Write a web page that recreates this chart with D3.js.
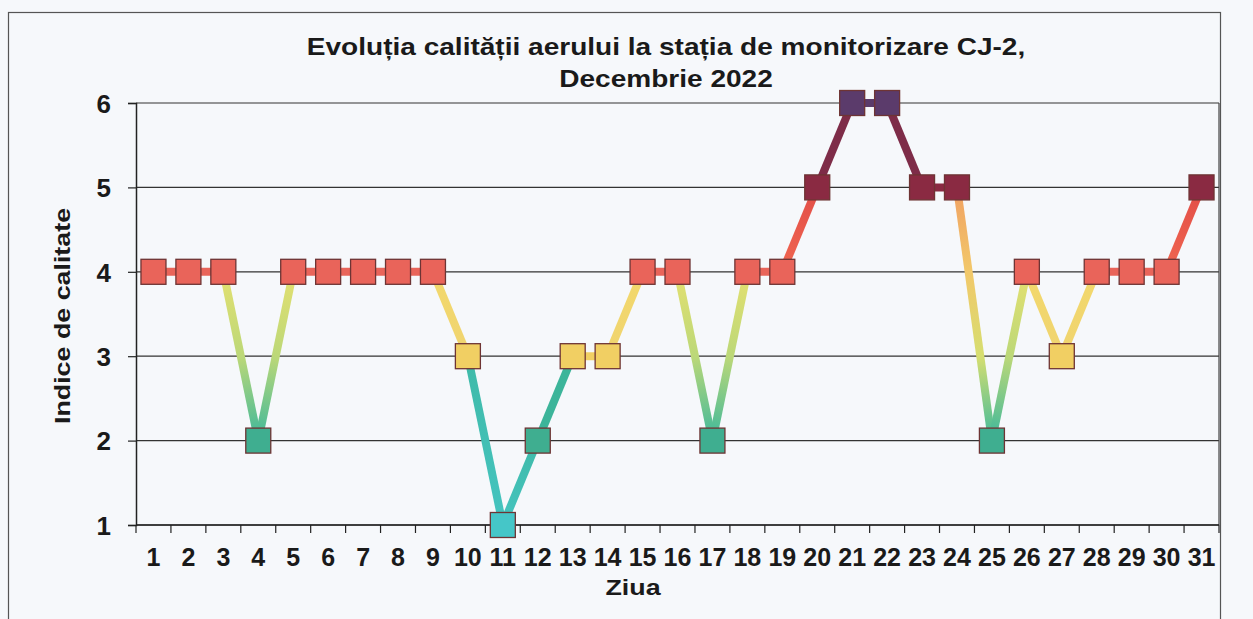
<!DOCTYPE html>
<html>
<head>
<meta charset="utf-8">
<script src="https://cdn.jsdelivr.net/npm/d3@7"></script>
<style>
  html, body { margin: 0; padding: 0; background: #f6f8fb; }
  svg { display: block; font-family: "Liberation Sans", Arial, sans-serif; }
</style>
</head>
<body>
<svg id="chart" width="1253" height="619"></svg>
<script>
var days = d3.range(1, 32);
var values = [4, 4, 4, 2, 4, 4, 4, 4, 4, 3, 1, 2, 3, 3, 4, 4, 2, 4, 4, 5, 6, 6, 5, 5, 2, 4, 3, 4, 4, 4, 5];
var yTicks = [1, 2, 3, 4, 5, 6];
var titleLines = ['Evoluția calității aerului la stația de monitorizare CJ-2,', 'Decembrie 2022'];

// marker fill per index value
var markerColors = {1: '#45c6c8', 2: '#3fae90', 3: '#f1cf63', 4: '#e9645a', 5: '#8a2a42', 6: '#5b3b6b'};

var svg = d3.select('#chart'),
    plotLeft = 136, plotRight = 1219, plotTop = 103, plotBottom = 525,
    stretch = 'scale(1.22,1)';

var x = d3.scaleBand().domain(days).range([plotLeft, plotRight]).padding(0);
var y = d3.scaleLinear().domain([1, 6]).range([plotBottom, plotTop]);

// outer frame
svg.append('rect')
  .attr('x', 8.5).attr('y', 12.5)
  .attr('width', 1212).attr('height', 640)
  .attr('fill', 'none').attr('stroke', '#555').attr('stroke-width', 1.2);

// title
svg.append('g').selectAll('text')
  .data(titleLines)
  .enter().append('text')
  .attr('transform', function (d, i) { return 'translate(666,' + (55 + i * 32) + ') ' + stretch; })
  .attr('text-anchor', 'middle')
  .attr('font-size', 23).attr('font-weight', 'bold').attr('fill', '#1a1a1a')
  .text(function (d) { return d; });

// grid lines
svg.append('g').selectAll('line')
  .data(yTicks)
  .enter().append('line')
  .attr('x1', plotLeft).attr('x2', plotRight)
  .attr('y1', function (d) { return y(d); }).attr('y2', function (d) { return y(d); })
  .attr('stroke', '#333').attr('stroke-width', 1.2);

// right border of plot area
svg.append('line')
  .attr('x1', plotRight).attr('x2', plotRight).attr('y1', plotTop).attr('y2', plotBottom)
  .attr('stroke', '#444').attr('stroke-width', 1.2);

// y axis
var yAxis = svg.append('g')
  .attr('transform', 'translate(' + plotLeft + ',0)')
  .call(d3.axisLeft(y).tickValues(yTicks).tickSize(8).tickPadding(17).tickFormat(d3.format('d')));
yAxis.select('.domain').attr('stroke', '#222').attr('stroke-width', 1.5);
yAxis.selectAll('.tick line').attr('stroke', '#222').attr('stroke-width', 1.2);
yAxis.selectAll('.tick text')
  .attr('font-size', 26).attr('font-weight', 'bold').attr('fill', '#1a1a1a')
  .attr('font-family', '"Liberation Sans", Arial, sans-serif').attr('dy', '0.36em');

// x axis: ticks on category boundaries
var xAxis = svg.append('g')
  .attr('transform', 'translate(0,' + plotBottom + ')');
xAxis.append('line')
  .attr('x1', plotLeft).attr('x2', plotRight).attr('y1', 0).attr('y2', 0)
  .attr('stroke', '#222').attr('stroke-width', 1.5);
xAxis.selectAll('line.tk')
  .data(days.concat([32]))
  .enter().append('line')
  .attr('class', 'tk')
  .attr('x1', function (d) { return d <= 31 ? x(d) : plotRight; })
  .attr('x2', function (d) { return d <= 31 ? x(d) : plotRight; })
  .attr('y1', 0).attr('y2', 8)
  .attr('stroke', '#222').attr('stroke-width', 1.2);
xAxis.selectAll('text')
  .data(days)
  .enter().append('text')
  .attr('x', function (d) { return x(d) + x.bandwidth() / 2; })
  .attr('y', 41)
  .attr('text-anchor', 'middle')
  .attr('font-size', 25).attr('font-weight', 'bold').attr('fill', '#1a1a1a')
  .text(function (d) { return d; });

// axis titles
svg.append('text')
  .attr('transform', 'translate(70,316) rotate(-90) ' + stretch)
  .attr('text-anchor', 'middle')
  .attr('font-size', 22).attr('font-weight', 'bold').attr('fill', '#1a1a1a')
  .text('Indice de calitate');

svg.append('text')
  .attr('transform', 'translate(633,595) ' + stretch)
  .attr('text-anchor', 'middle')
  .attr('font-size', 22).attr('font-weight', 'bold').attr('fill', '#1a1a1a')
  .text('Ziua');

// line segment colours, from the higher end to the lower end
function segColors(a, b) {
  var lo = Math.min(a, b), hi = Math.max(a, b);
  if (lo === hi) return [markerColors[lo], markerColors[lo]];
  if (hi >= 6) return ['#7e2c48', '#7e2c48'];
  if (hi === 5 && lo === 4) return ['#e24e48', '#f06650'];
  if (hi === 5) return ['#f0a062', '#f2c86a', '#d6de70', '#3dba9c'];
  if (hi === 4 && lo === 3) return ['#f2d86c', '#f0d470'];
  if (hi === 4) return ['#e4e070', '#bcd878', '#3db89c'];
  if (hi === 3 && lo === 2) return ['#3cb59a', '#3cb49a'];
  return ['#3fbaa8', '#45c4c0'];
}

function cx(i) { return x(days[i]) + x.bandwidth() / 2; }

var defs = svg.append('defs');
var segs = d3.range(values.length - 1).map(function (i) {
  var a = values[i], b = values[i + 1];
  var c = segColors(a, b);
  if (a < b) c = c.slice().reverse();
  return {
    id: 'g' + i,
    x1: cx(i), y1: y(a), x2: cx(i + 1), y2: y(b),
    colors: c,
    flat: a === b
  };
});

var grads = defs.selectAll('linearGradient')
  .data(segs)
  .enter().append('linearGradient')
  .attr('id', function (d) { return d.id; })
  .attr('gradientUnits', 'userSpaceOnUse')
  .attr('x1', function (d) { return d.x1; }).attr('y1', function (d) { return d.y1; })
  .attr('x2', function (d) { return d.x2; }).attr('y2', function (d) { return d.y2; });
grads.selectAll('stop')
  .data(function (d) { return d.colors; })
  .enter().append('stop')
  .attr('offset', function (c, i, nodes) { return i / (nodes.length - 1); })
  .attr('stop-color', function (c) { return c; });

svg.append('g').selectAll('line')
  .data(segs)
  .enter().append('line')
  .attr('x1', function (d) { return d.x1; }).attr('y1', function (d) { return d.y1; })
  .attr('x2', function (d) { return d.x2; }).attr('y2', function (d) { return d.y2; })
  .attr('stroke', function (d) { return d.flat ? d.colors[0] : 'url(#' + d.id + ')'; })
  .attr('stroke-width', 8);

// markers
var size = 25;
svg.append('g').selectAll('rect')
  .data(values)
  .enter().append('rect')
  .attr('x', function (d, i) { return cx(i) - size / 2; })
  .attr('y', function (d) { return y(d) - size / 2; })
  .attr('width', size).attr('height', size)
  .attr('fill', function (d) { return markerColors[d]; })
  .attr('stroke', '#6e3434').attr('stroke-width', 1.3);
</script>
</body>
</html>
